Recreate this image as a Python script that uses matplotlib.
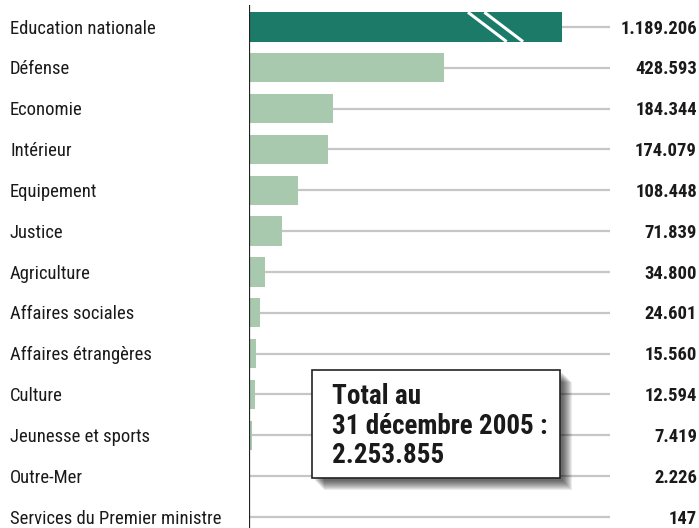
import matplotlib
matplotlib.use("Agg")
import matplotlib.pyplot as plt
from matplotlib.patches import Rectangle
import matplotlib.transforms as mtransforms

# data
ministeres = ["Education nationale", "Défense", "Economie", "Intérieur", "Equipement",
              "Justice", "Agriculture", "Affaires sociales", "Affaires étrangères",
              "Culture", "Jeunesse et sports", "Outre-Mer", "Services du Premier ministre"]
effectifs = [1189206, 428593, 184344, 174079, 108448, 71839, 34800, 24601,
             15560, 12594, 7419, 2226, 147]
etiquettes = ["1.189.206", "428.593", "184.344", "174.079", "108.448", "71.839",
              "34.800", "24.601", "15.560", "12.594", "7.419", "2.226", "147"]
total_txt = "Total au\n31 décembre 2005 :\n2.253.855"

# axis is broken for the first bar
cap = 688000
xmax = 793000

plt.rcParams['font.family'] = ['Roboto Condensed', 'Archivo Narrow', 'DejaVu Sans']

fig = plt.figure(figsize=(6.99, 5.28), dpi=100)
ax = fig.add_axes([249/699, 0, (610-249)/699, 1])
ax.set_xlim(0, xmax)
ax.set_ylim(12.27, -0.66)
ax.axis("off")

shown = [min(v, cap) for v in effectifs]
cols = ["#1b7a68"] + ["#a9c9ae"] * (len(effectifs) - 1)
ys = list(range(len(ministeres)))
ax.barh(ys, shown, height=0.72, color=cols, zorder=2)
ax.hlines(ys, shown, xmax, color="#c6c6c6", lw=1.6, zorder=1)
ax.vlines(0, -0.54, 12.27, color="#222222", lw=1.6, zorder=3)

# break marks
for dx in (0, 36000):
    ax.plot([cap - 207000 + dx, cap - 122000 + dx], [-0.36, 0.36], color="white", lw=2.2,
            solid_capstyle="butt", zorder=4)

trl = mtransforms.blended_transform_factory(fig.transFigure, ax.transData)
for y, nom, lab in zip(ys, ministeres, etiquettes):
    fig.text(10/699, y + 0.04, nom, transform=trl, ha="left", va="center", fontsize=13.4,
             color="#1a1a1a")
    fig.text(697/699, y + 0.04, lab, transform=trl, ha="right", va="center", fontsize=13.4,
             fontweight="bold", color="#1a1a1a")

# total box with soft shadow
x0, y0, w, h = 312/699, 1 - 478/528, 248/699, 108/528
for i in range(10):
    off = 3 + i * 1.0
    fig.patches.append(Rectangle((x0 + off/699, y0 - off/528), w, h, transform=fig.transFigure,
                                 facecolor="#000000", alpha=0.08, edgecolor="none", zorder=5))
fig.patches.append(Rectangle((x0, y0), w, h, transform=fig.transFigure, facecolor="white",
                             edgecolor="#222222", lw=1.2, zorder=6))
fig.text(x0 + 20/699, y0 + h/2 - 2/528, total_txt, ha="left", va="center", fontsize=19.5,
         fontweight="bold", color="#1a1a1a", linespacing=1.1, zorder=7)

fig.savefig("out.png", dpi=100)
